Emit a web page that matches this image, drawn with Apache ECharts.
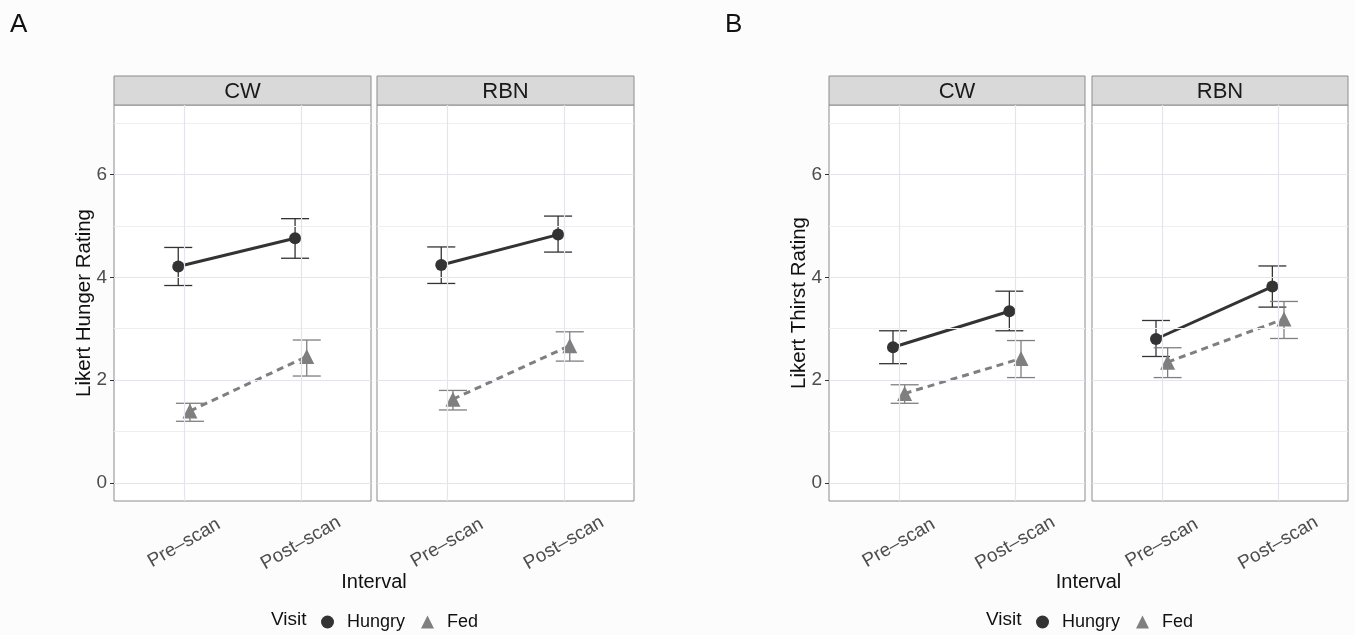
<!DOCTYPE html>
<html>
<head>
<meta charset="utf-8">
<title>Likert hunger and thirst ratings</title>
<script src="https://cdn.jsdelivr.net/npm/echarts@6.0.0/dist/echarts.min.js"></script>
<style>
  html, body { margin: 0; padding: 0; background: #fcfcfd; }
  #chart { width: 1355px; height: 635px; }
</style>
</head>
<body>
<div id="chart"></div>
<script>
const intervals = ['Pre–scan', 'Post–scan']
const sites = ['CW', 'RBN']
const visits = ['Hungry', 'Fed']
const yBreaks = [0, 2, 4, 6]
const yMinorBreaks = [1, 3, 5, 7]

// order in each array: CW pre, CW post, RBN pre, RBN post
const hungerHungryMean = [4.21, 4.76, 4.24, 4.83]
const hungerHungryLow = [3.84, 4.37, 3.88, 4.49]
const hungerHungryHigh = [4.58, 5.14, 4.59, 5.19]
const hungerFedMean = [1.40, 2.46, 1.63, 2.67]
const hungerFedLow = [1.20, 2.08, 1.42, 2.37]
const hungerFedHigh = [1.55, 2.78, 1.80, 2.94]

const thirstHungryMean = [2.64, 3.34, 2.80, 3.82]
const thirstHungryLow = [2.32, 2.96, 2.46, 3.42]
const thirstHungryHigh = [2.96, 3.73, 3.16, 4.22]
const thirstFedMean = [1.74, 2.42, 2.35, 3.19]
const thirstFedLow = [1.55, 2.05, 2.05, 2.81]
const thirstFedHigh = [1.91, 2.77, 2.63, 3.53]

const figures = [
  { letter: 'A', yTitle: 'Likert Hunger Rating',
    Hungry: [hungerHungryMean, hungerHungryLow, hungerHungryHigh],
    Fed: [hungerFedMean, hungerFedLow, hungerFedHigh] },
  { letter: 'B', yTitle: 'Likert Thirst Rating',
    Hungry: [thirstHungryMean, thirstHungryLow, thirstHungryHigh],
    Fed: [thirstFedMean, thirstFedLow, thirstFedHigh] }
]

// layout
const panelLefts = [114, 377, 829, 1092]
const panelWidths = [257, 257, 256, 256]
const panelTop = 105
const panelHeight = 396
const stripTop = 76
const stripHeight = 29
const figureOffsets = [0, 715]

const colors = {
  Hungry: '#333333',
  Fed: '#7f7f7f',
  tick: '#4d4d4d',
  major: '#e4e4ea',
  minor: '#efeff3',
  border: '#8c8c8c',
  strip: '#d9d9d9'
}
const dodge = { Hungry: -0.05, Fed: 0.05 }
const fontFamily = '"Liberation Sans", Arial, sans-serif'

const grids = []
const xAxes = []
const yAxes = []
const series = []
const graphics = []
const legends = []

figures.forEach((fig, f) => {
  const off = figureOffsets[f]
  graphics.push({
    type: 'text', left: 10 + off, top: 12,
    style: { text: fig.letter, fontSize: 26, fill: '#111', fontFamily }
  })
  const l = panelLefts[f * 2]
  const r = panelLefts[f * 2 + 1] + panelWidths[f * 2 + 1]
  graphics.push({
    type: 'text', x: (l + r) / 2, y: 582,
    style: { text: 'Interval', fontSize: 20, fill: '#111', fontFamily, textAlign: 'center', textVerticalAlign: 'middle' }
  })
  graphics.push({
    type: 'text', x: 271 + off, y: 620,
    style: { text: 'Visit', fontSize: 19, fill: '#111', fontFamily, textVerticalAlign: 'middle' }
  })
  legends.push({
    left: 321 + off, top: 613, padding: 0,
    itemWidth: 13, itemHeight: 13, itemGap: 16,
    textStyle: { fontSize: 18, color: '#111', fontFamily, padding: [0, 0, 0, 8] },
    data: [{ name: 'Hungry', icon: 'circle' }, { name: 'Fed', icon: 'triangle' }]
  })

  sites.forEach((site, s) => {
    const g = f * 2 + s
    grids.push({
      left: panelLefts[g], top: panelTop, width: panelWidths[g], height: panelHeight,
      show: true, borderColor: colors.border, borderWidth: 1, backgroundColor: '#fff'
    })
    graphics.push({
      type: 'rect',
      shape: { x: panelLefts[g], y: stripTop, width: panelWidths[g], height: stripHeight },
      style: { fill: colors.strip, stroke: colors.border, lineWidth: 1 }
    })
    graphics.push({
      type: 'text', x: panelLefts[g] + panelWidths[g] / 2, y: stripTop + stripHeight / 2 + 1,
      style: { text: site, fontSize: 22, fill: '#1a1a1a', fontFamily, textAlign: 'center', textVerticalAlign: 'middle' }
    })

    xAxes.push({
      gridIndex: g, type: 'value', min: 0.4, max: 2.6,
      axisLine: { show: false },
      splitLine: { show: false },
      axisTick: { show: true, customValues: [1, 2], length: 4, lineStyle: { color: '#333' } },
      axisLabel: {
        customValues: [1, 2],
        formatter: v => intervals[Math.round(v) - 1],
        rotate: 30, align: 'center', verticalAlign: 'middle', margin: 42,
        fontSize: 19, color: colors.tick, fontFamily
      }
    })
    yAxes.push({
      gridIndex: g, type: 'value', min: -0.35, max: 7.35,
      axisLine: { show: false },
      splitLine: { show: false },
      axisTick: { show: s === 0, customValues: yBreaks, length: 4, lineStyle: { color: '#333' } },
      axisLabel: { show: s === 0, customValues: yBreaks, margin: 7, fontSize: 19, color: colors.tick, fontFamily },
      name: s === 0 ? fig.yTitle : '',
      nameLocation: 'middle', nameGap: 19, nameMoveOverlap: false,
      nameTextStyle: { fontSize: 20.5, color: '#111', fontFamily }
    })

    // panel grid lines
    series.push({
      type: 'line', name: 'grid', xAxisIndex: g, yAxisIndex: g, data: [],
      silent: true, z: 1, animation: false,
      markLine: {
        silent: true, symbol: ['none', 'none'], label: { show: false }, animation: false,
        data: [
          ...yMinorBreaks.map(v => ({ yAxis: v, lineStyle: { color: colors.minor, width: 1, type: 'solid' } })),
          ...yBreaks.map(v => ({ yAxis: v, lineStyle: { color: colors.major, width: 1.2, type: 'solid' } })),
          ...[1, 2].map(v => ({ xAxis: v, lineStyle: { color: colors.major, width: 1.2, type: 'solid' } }))
        ]
      }
    })

    visits.forEach(visit => {
      const [mean, low, high] = fig[visit]
      const d = dodge[visit]
      const color = colors[visit]
      series.push({
        type: 'line', name: visit, xAxisIndex: g, yAxisIndex: g, z: 3, animation: false,
        data: [0, 1].map(i => [i + 1 + d, mean[s * 2 + i]]),
        symbol: visit === 'Hungry' ? 'circle' : 'triangle',
        symbolSize: visit === 'Hungry' ? 12 : 15,
        itemStyle: { color },
        lineStyle: { color, width: 3, type: visit === 'Hungry' ? 'solid' : [7, 5] }
      })
      series.push({
        type: 'custom', name: visit, xAxisIndex: g, yAxisIndex: g, z: 2, animation: false,
        itemStyle: { color },
        data: [0, 1].map(i => [i + 1 + d, low[s * 2 + i], high[s * 2 + i]]),
        renderItem: (params, api) => {
          const x = api.value(0)
          const top = api.coord([x, api.value(2)])
          const bot = api.coord([x, api.value(1)])
          const half = api.size([0.24, 0])[0] / 2
          const style = { stroke: color, lineWidth: 1.3 }
          return {
            type: 'group',
            children: [
              { type: 'line', shape: { x1: top[0], y1: top[1], x2: bot[0], y2: bot[1] }, style },
              { type: 'line', shape: { x1: top[0] - half, y1: top[1], x2: top[0] + half, y2: top[1] }, style },
              { type: 'line', shape: { x1: bot[0] - half, y1: bot[1], x2: bot[0] + half, y2: bot[1] }, style }
            ]
          }
        }
      })
    })
  })
})

const chart = echarts.init(document.getElementById('chart'))
chart.setOption({
  backgroundColor: '#fcfcfd',
  textStyle: { fontFamily },
  animation: false,
  grid: grids,
  xAxis: xAxes,
  yAxis: yAxes,
  legend: legends,
  graphic: graphics,
  series
})
</script>
</body>
</html>
